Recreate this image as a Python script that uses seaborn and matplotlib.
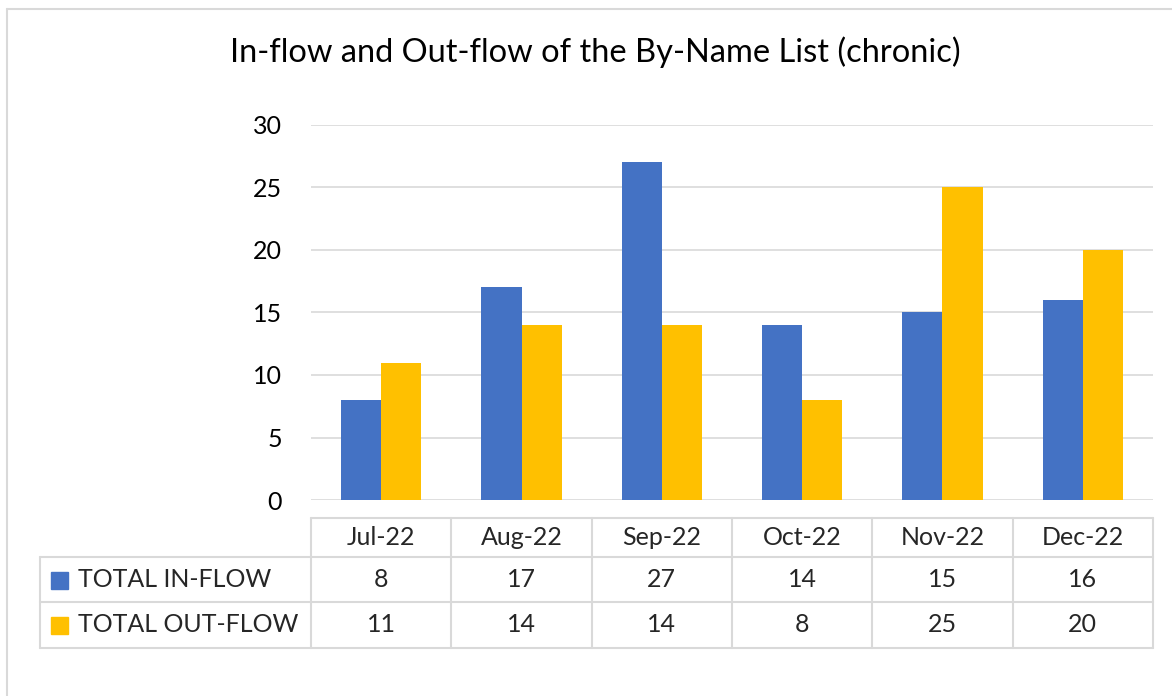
import matplotlib.pyplot as plt
import seaborn as sns
import pandas as pd

months = ["Jul-22", "Aug-22", "Sep-22", "Oct-22", "Nov-22", "Dec-22"]
series_names = ["TOTAL IN-FLOW", "TOTAL OUT-FLOW"]
in_flow = [8, 17, 27, 14, 15, 16]
out_flow = [11, 14, 14, 8, 25, 20]
y_ticks = [0, 5, 10, 15, 20, 25, 30]
title = "In-flow and Out-flow of the By-Name List (chronic)"

colors = ["#4472C4", "#FFC000"]
grid_c = "#D9D9D9"

sns.set_theme(style="white")
plt.rcParams["font.family"] = ["Lato", "DejaVu Sans"]

df = pd.DataFrame({
    "month": months * 2,
    "value": in_flow + out_flow,
    "series": [series_names[0]] * len(months) + [series_names[1]] * len(months),
})

W, H = 1172, 696
fig = plt.figure(figsize=(W / 100, H / 100), dpi=100)

# plot area in pixels
x0, x1, y_top, y_bot = 311, 1153, 125, 500
ax = fig.add_axes([x0 / W, 1 - y_bot / H, (x1 - x0) / W, (y_bot - y_top) / H])
sns.barplot(data=df, x="month", y="value", hue="series", palette=colors,
            width=0.572, ax=ax, legend=False, saturation=1, edgecolor="none")
ax.set_ylim(0, 30)
ax.set_xlim(-0.5, len(months) - 0.5)
ax.set_yticks(y_ticks)
ax.set_yticklabels([str(t) for t in y_ticks], fontsize=18, color="#000000")
ax.tick_params(axis="y", length=0, pad=21)
ax.set_xticks([])
ax.set_xlabel("")
ax.set_ylabel("")
for t in y_ticks:
    ax.axhline(t, color=grid_c, lw=1.2, zorder=0)
for s in ax.spines.values():
    s.set_visible(False)

# overlay in pixel coordinates for the frame, title and data table
ov = fig.add_axes([0, 0, 1, 1], zorder=-1)
ov.set_xlim(0, W)
ov.set_ylim(H, 0)
ov.axis("off")
ov.plot([7, 7], [9, H], color=grid_c, lw=1.5)
ov.plot([7, W], [9, 9], color=grid_c, lw=1.5)

ov2 = fig.add_axes([0, 0, 1, 1])
ov2.set_xlim(0, W)
ov2.set_ylim(H, 0)
ov2.axis("off")
ov2.patch.set_alpha(0)
ov2.text(595, 52, title, ha="center", va="center", fontsize=23.5, color="#000000")

col_w = (x1 - x0) / len(months)
rows = [518, 557, 602, 648]
tl = 40
lc = grid_c
# header row
ov2.plot([x0, x1], [rows[0], rows[0]], color=lc, lw=1.5)
for r in rows[1:]:
    ov2.plot([tl, x1], [r, r], color=lc, lw=1.5)
ov2.plot([tl, tl], [rows[1], rows[3]], color=lc, lw=1.5)
for i in range(len(months) + 1):
    xx = x0 + i * col_w
    ov2.plot([xx, xx], [rows[0], rows[3]], color=lc, lw=1.5)

fs = 18
for i, m in enumerate(months):
    cx = x0 + (i + 0.5) * col_w
    ov2.text(cx, (rows[0] + rows[1]) / 2, m, ha="center", va="center", fontsize=fs)
    ov2.text(cx, (rows[1] + rows[2]) / 2, str(in_flow[i]), ha="center", va="center", fontsize=fs)
    ov2.text(cx, (rows[2] + rows[3]) / 2, str(out_flow[i]), ha="center", va="center", fontsize=fs)

for j, (name, c) in enumerate(zip(series_names, colors)):
    cy = (rows[j + 1] + rows[j + 2]) / 2
    ov2.add_patch(plt.Rectangle((51, cy - 8), 17, 17, color=c))
    ov2.text(78, cy, name, ha="left", va="center", fontsize=fs)

fig.savefig("out.png", dpi=100)
